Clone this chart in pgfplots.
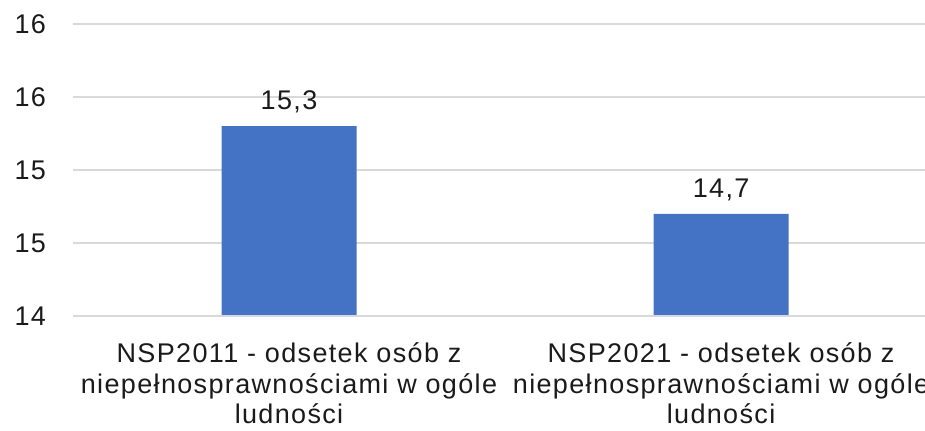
\documentclass[border=0pt]{standalone}
\usepackage{fontspec}
\setmainfont{Liberation Sans}[LetterSpace=5]
\usepackage{pgfplots}
\pgfplotsset{compat=1.18}
\definecolor{barblue}{HTML}{4472C4}
\definecolor{gridgray}{HTML}{D9D9D9}
\definecolor{txt}{HTML}{1A1A1A}

\begin{document}
\begin{tikzpicture}
\begin{axis}[
  scale only axis,
  width=426pt,
  height=146pt,
  ymin=14, ymax=16,
  xmin=-0.5, xmax=1.472,
  ytick={14,14.5,15,15.5,16},
  yticklabels={14,15,15,16,16},
  xtick={0,1},
  xticklabels={NSP2011 - odsetek osób z\\niepełnosprawnościami w ogóle\\ludności,
               NSP2021 - odsetek osób z\\niepełnosprawnościami w ogóle\\ludności},
  axis line style={draw=none},
  major tick length=0pt,
  ymajorgrids,
  grid style={draw=gridgray, line width=0.8pt},
  ticklabel style={font=\fontsize{13.5}{15.2}\selectfont, text=txt},
  yticklabel style={xshift=-10pt},
  xticklabel style={align=center, yshift=-10pt},
  ybar,
  bar width=67.5pt,
  nodes near coords,
  nodes near coords style={font=\fontsize{13.5}{15}\selectfont, text=txt,
    yshift=3pt,
    /pgf/number format/.cd, fixed, fixed zerofill, precision=1, use comma,
    assume math mode=true},
  clip=false,
]
\addplot[fill=barblue, draw=none] coordinates {(0,15.3) (1,14.7)};
\draw[gridgray, line width=0.8pt] (rel axis cs:0,0) -- (rel axis cs:1,0);
\end{axis}
\pgfresetboundingbox
\path ([shift={(-36.5pt,-57pt)}]current axis.south west)
  rectangle ([shift={(0pt,12pt)}]current axis.north east);
\end{tikzpicture}
\end{document}
